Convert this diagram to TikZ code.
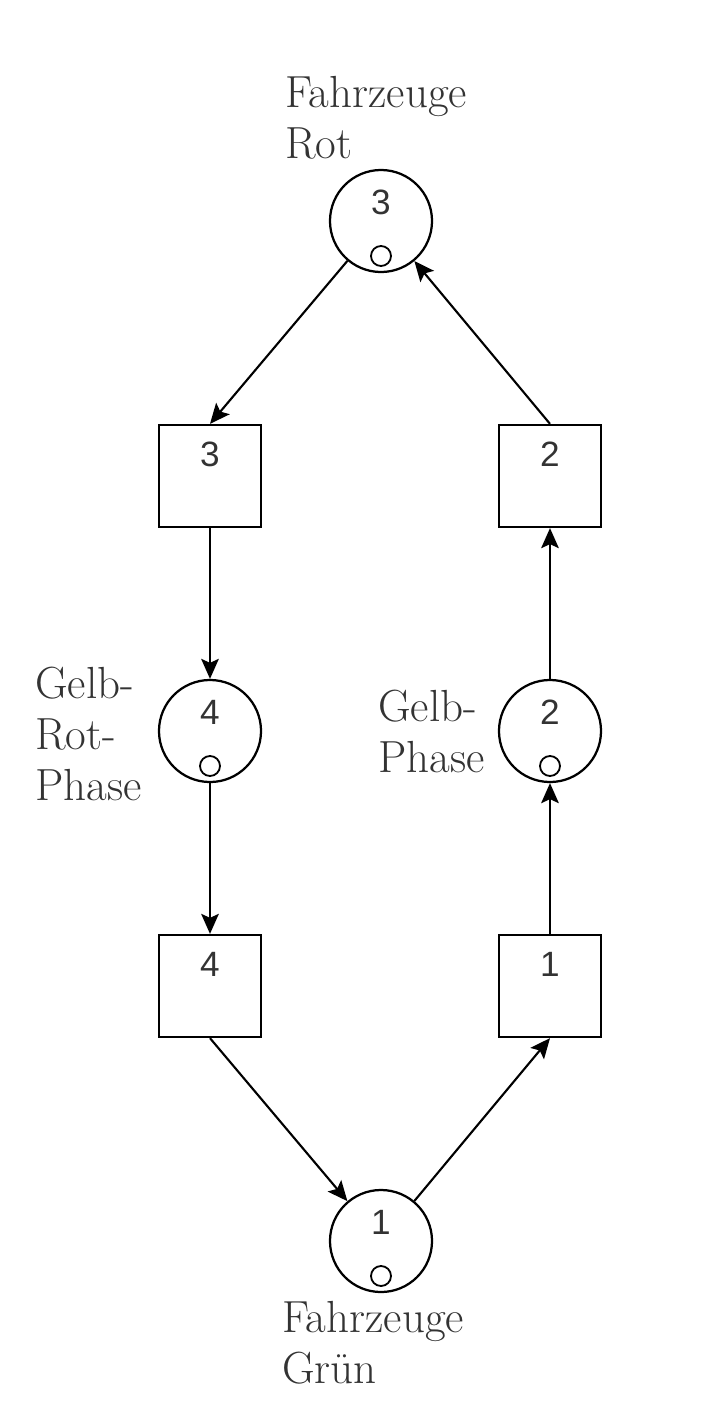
\documentclass[tikz,border=0pt]{standalone}
\usepackage{fontspec}
\newfontfamily\numfont{Liberation Sans}
\usetikzlibrary{arrows.meta,calc}
\definecolor{labelgray}{HTML}{333333}
\tikzset{
  place/.style={circle, draw, line width=1.6pt, minimum size=2.55cm, inner sep=0pt},
  transition/.style={rectangle, draw, line width=1.6pt, minimum size=2.55cm, inner sep=0pt},
  token/.style={circle, draw, line width=1.3pt, minimum size=0.5cm, inner sep=0pt},
  number/.style={font=\numfont\fontsize{25}{30}\selectfont, text=labelgray, inner sep=0pt},
  caption/.style={font=\fontsize{32}{36}\selectfont, text=labelgray, align=left, anchor=base west, inner sep=0pt},
  arc/.style={line width=1.5pt, -{Stealth[length=0.5cm,width=0.44cm,inset=0.1cm]}}
}
\begin{document}
\begin{tikzpicture}[x=0.025cm, y=-0.025cm]
\useasboundingbox (0,0) rectangle (717,1408);

% places
\node[place] (p3) at (381,221) {};
\node[place] (p4) at (210,731) {};
\node[place] (p2) at (550,731) {};
\node[place] (p1) at (381,1241) {};

% transitions
\node[transition] (t3) at (210,476) {};
\node[transition] (t2) at (550,476) {};
\node[transition] (t4) at (210,986) {};
\node[transition] (t1) at (550,986) {};

% numbers
\node[number] (n-p3) at ($(p3)+(0,-19)$) {3};
\node[number] (n-p4) at ($(p4)+(0,-19)$) {4};
\node[number] (n-p2) at ($(p2)+(0,-19)$) {2};
\node[number] (n-p1) at ($(p1)+(0,-19)$) {1};
\node[number] (n-t3) at ($(t3)+(0,-22)$) {3};
\node[number] (n-t2) at ($(t2)+(0,-22)$) {2};
\node[number] (n-t4) at ($(t4)+(0,-22)$) {4};
\node[number] (n-t1) at ($(t1)+(0,-22)$) {1};

% tokens
\node[token] (m3) at ($(p3)+(0,35)$) {};
\node[token] (m4) at ($(p4)+(0,35)$) {};
\node[token] (m2) at ($(p2)+(0,35)$) {};
\node[token] (m1) at ($(p1)+(0,35)$) {};

% captions (anchored at the last baseline)
\node[caption] (c3) at (285,158) {Fahrzeuge\\Rot};
\node[caption] (c4) at (35,800) {Gelb-\\Rot-\\Phase};
\node[caption] (c2) at (378,772) {Gelb-\\Phase};
\node[caption] (c1) at (282,1383) {Fahrzeuge\\Grün};

% arcs
\draw[arc] (p3) -- (t3.north);
\draw[arc] (t3) -- (p4);
\draw[arc] (p4) -- (t4);
\draw[arc] (t4.south) -- (p1);
\draw[arc] (p1) -- (t1.south);
\draw[arc] (t1) -- (p2);
\draw[arc] (p2) -- (t2);
\draw[arc] (t2.north) -- (p3);
\end{tikzpicture}
\end{document}
